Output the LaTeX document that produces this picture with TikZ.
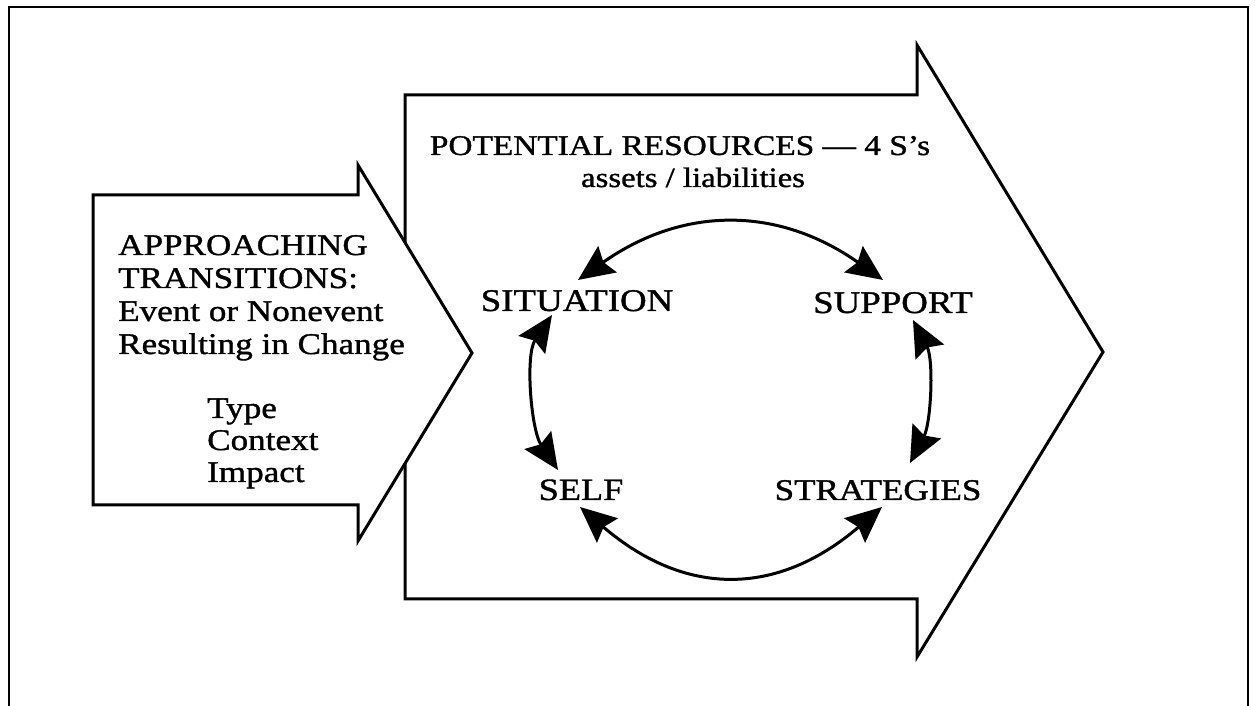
\documentclass[tikz,border=0pt]{standalone}
\usepackage{fontspec}
\setmainfont{Liberation Serif}[FakeStretch=1.17,FakeBold=1.2]
\usetikzlibrary{calc,arrows.meta}
\begin{document}
\begin{tikzpicture}[x=1pt,y=1pt,
  lbl/.style={inner sep=0pt, font=\fontsize{30}{33}\selectfont},
  shapeline/.style={line width=3pt, line join=miter},
  arc/.style={line width=3pt, {Stealth[length=36pt,width=32pt,inset=5pt]}-{Stealth[length=36pt,width=32pt,inset=5pt]}}]
\useasboundingbox (0,0) rectangle (1255,706);
\begin{scope}
\clip (0,0) rectangle (1255,706);
\draw[line width=2.5pt] (9,-20) -- (9,699) -- (1248,699) -- (1248,-20);
\end{scope}
% big arrow
\draw[shapeline, fill=white] (405,611) -- (917,611) -- (917,661) -- (1103,354) -- (917,49) -- (917,107) -- (405,107) -- cycle;
% small arrow
\draw[shapeline, fill=white] (93,511) -- (358,511) -- (358,541) -- (472,353) -- (358,165) -- (358,201) -- (93,201) -- cycle;
% texts
\node[lbl, anchor=base west, align=left] (appr) at (118,352) {APPROACHING\\TRANSITIONS:\\Event or Nonevent\\Resulting in Change};
\node[lbl, font=\fontsize{30}{32}\selectfont, anchor=base west, align=left] (tci) at (207,224) {Type\\Context\\Impact};
\node[lbl, font=\fontsize{28.5}{30}\selectfont, anchor=base] (title) at (680,551) {POTENTIAL RESOURCES — 4 S's};
\node[lbl, font=\fontsize{28}{30}\selectfont, anchor=base] (sub) at (693,519) {assets / liabilities};
\node[lbl, font=\fontsize{31.5}{33}\selectfont, anchor=base] (sit) at (577,395) {SITUATION};
\node[lbl, font=\fontsize{31.5}{33}\selectfont, anchor=base] (sup) at (893,393) {SUPPORT};
\node[lbl, font=\fontsize{31}{33}\selectfont, anchor=base] (self) at (581,206) {SELF};
\node[lbl, anchor=base] (strat) at (878,206) {STRATEGIES};
% arcs
\draw[arc] ($(sit.base)+(1,31)$) .. controls +(105,74) and +(-105,74) .. ($(sup.base)+(-10,33)$);
\draw[arc] ($(sit.base)+(-25,-4)$) .. controls +(-27,-40) and +(-27,40) .. ($(self.base)+(-23,30)$);
\draw[arc] ($(sup.base)+(20,-7)$) .. controls +(21,-40) and +(21,40) .. ($(strat.base)+(32,37)$);
\draw[arc] ($(self.base)+(-1,-7)$) .. controls +(105,-90) and +(-105,-90) .. ($(strat.base)+(4,-7)$);
\end{tikzpicture}
\end{document}
